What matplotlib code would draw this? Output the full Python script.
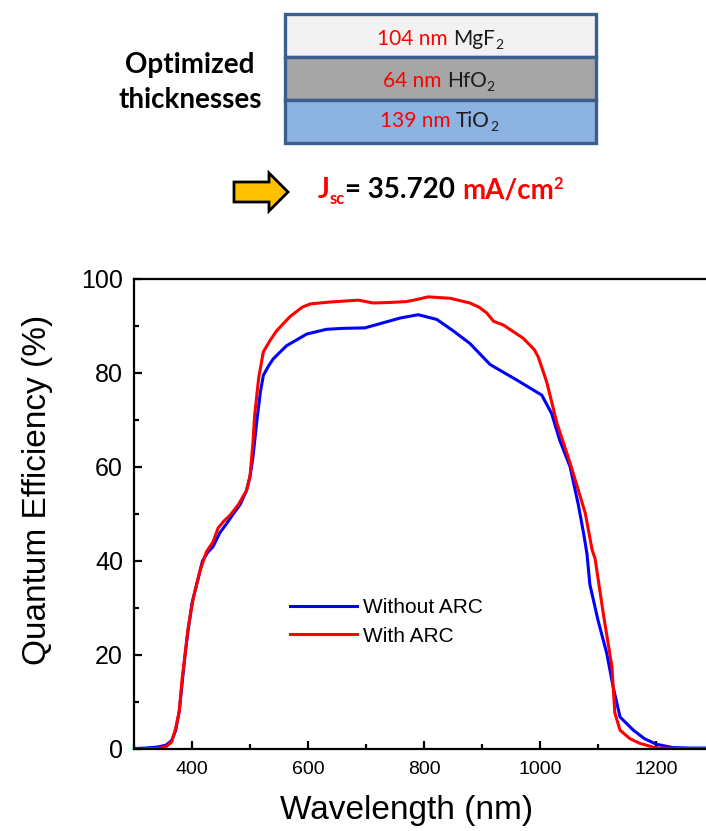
import matplotlib
matplotlib.use("Agg")
import matplotlib.pyplot as plt
from matplotlib.patches import Rectangle, Polygon
from matplotlib.ticker import MultipleLocator

# ---------------- data ----------------
wl_without = [300, 320, 340, 355, 365, 372, 378, 383, 388, 393, 400, 410, 418, 428, 436,
              448, 460, 471, 483, 494, 500, 505, 512, 518, 523, 532, 540, 563, 598, 632,
              660, 698, 730, 759, 790, 822, 850, 879, 914, 960, 1003, 1020, 1034, 1052,
              1066, 1075, 1081, 1086, 1100, 1115, 1126, 1138, 1161, 1180, 1201, 1229,
              1260, 1290]
qe_without = [0.1, 0.2, 0.4, 0.8, 1.8, 4, 8, 14, 20, 25, 31, 36, 40, 42, 43,
              46, 48, 50, 52, 55, 58, 62, 70, 76, 79.5, 81.5, 83, 85.8, 88.3, 89.3,
              89.5, 89.6, 90.7, 91.7, 92.4, 91.4, 89, 86.3, 81.8, 78.5, 75.3, 71.4, 65.7, 60,
              52, 46, 41.5, 35, 27.4, 20.4, 13.3, 6.8, 4, 2.2, 1, 0.3,
              0.2, 0.2]

wl_with = [300, 340, 355, 365, 372, 378, 383, 388, 393, 402, 414, 425, 436, 445, 455,
           466, 480, 494, 500, 505, 508, 515, 523, 535, 546, 569, 590, 604, 638, 687,
           712, 740, 770, 790, 807, 845, 879, 895, 908, 920, 937, 971, 990, 997, 1005,
           1012, 1029, 1052, 1078, 1090, 1095, 1109, 1124, 1129, 1138, 1155, 1172, 1201,
           1240, 1290]
qe_with = [0.0, 0.1, 0.5, 1.5, 4.5, 8, 15, 20, 25.5, 32, 38, 42, 44, 47, 48.5,
           49.8, 52, 55, 58, 65, 71, 79, 84.5, 87, 89, 92, 94, 94.7, 95.1, 95.5,
           94.9, 95, 95.2, 95.7, 96.2, 95.9, 94.9, 94, 92.8, 91, 90.2, 87.4, 85, 83.4, 80.5,
           77.9, 69.4, 60.8, 50.2, 42.3, 40.5, 28.9, 17.5, 7.7, 4, 2.2, 1.2, 0.2,
           0.1, 0.1]

series_labels = ["Without ARC", "With ARC"]
x_ticks = [400, 600, 800, 1000, 1200]
y_ticks = [0, 20, 40, 60, 80, 100]

layer_thick = ["104 nm", "64 nm", "139 nm"]
layer_mat = ["MgF", "HfO", "TiO"]
layer_colors = ["#f2f2f2", "#a6a6a6", "#8db3e2"]

W, H = 706, 831
fig = plt.figure(figsize=(W / 100, H / 100), dpi=100)
fig.patch.set_facecolor("white")
renderer = fig.canvas.get_renderer()

# ---------------- top diagram (pixel coordinates) ----------------
ov = fig.add_axes([0, 0, 1, 1])
ov.set_xlim(0, W)
ov.set_ylim(H, 0)
ov.axis("off")
ov.set_zorder(5)

dfont = "Lato"


def chain(x, y, pieces):
    """pieces: list of (text, color, size, weight, dy)"""
    for txt, col, size, weight, dy in pieces:
        t = ov.text(x, y + dy, txt, color=col, fontsize=size, fontweight=weight,
                    family=dfont, ha="left", va="baseline")
        bb = t.get_window_extent(renderer=renderer)
        x = bb.x1
    return x


box_x0, box_x1 = 285, 596
edges = [14, 57, 100, 143]
baselines = [45, 87, 127]
text_start = [377, 383, 380]
for i in range(3):
    ov.add_patch(Rectangle((box_x0, edges[i]), box_x1 - box_x0, edges[i + 1] - edges[i],
                           facecolor=layer_colors[i], edgecolor="#3b5f8c", lw=2.4))
    chain(text_start[i], baselines[i], [
        (layer_thick[i] + " ", "#ff0000", 15, "normal", 0),
        (layer_mat[i], "#1a1a1a", 15, "normal", 0),
        ("2", "#1a1a1a", 10, "normal", 4),
    ])

ov.text(190, 73, "Optimized", fontsize=20, fontweight="bold", family=dfont,
        ha="center", va="baseline", color="black")
ov.text(190, 108, "thicknesses", fontsize=20, fontweight="bold", family=dfont,
        ha="center", va="baseline", color="black")

# arrow
arrow_pts = [(234, 182), (269, 182), (269, 173), (288, 192), (269, 211), (269, 202), (234, 202)]
ov.add_patch(Polygon(arrow_pts, closed=True, facecolor="#ffc000", edgecolor="black", lw=2))

# Jsc text
chain(318, 198, [
    ("J", "#ff0000", 20, "bold", 0),
    ("sc", "#ff0000", 12, "bold", 6),
    ("= 35.720 ", "black", 20, "bold", 0),
    ("mA/cm", "#ff0000", 20, "bold", 0),
    ("2", "#ff0000", 12, "bold", -9),
])

# ---------------- chart ----------------
ax_l, ax_r, ax_t, ax_b = 134, 706, 279, 749
ax = fig.add_axes([ax_l / W, 1 - ax_b / H, (ax_r - ax_l) / W, (ax_b - ax_t) / H])
ax.set_facecolor("none")

ax.plot(wl_without, qe_without, color="#0000ff", lw=2.2, label=series_labels[0])
ax.plot(wl_with, qe_with, color="#ff0000", lw=2.2, label=series_labels[1])

ax.set_xlim(300, 300 + (ax_r - ax_l) / 0.58)
ax.set_ylim(0, 100)
ax.set_xticks(x_ticks)
ax.set_yticks(y_ticks)
ax.xaxis.set_minor_locator(MultipleLocator(100))
ax.yaxis.set_minor_locator(MultipleLocator(10))
ax.spines["right"].set_visible(False)
for s in ["left", "top", "bottom"]:
    ax.spines[s].set_linewidth(1.6)
ax.tick_params(which="both", direction="in", width=1.6, top=False, right=False)
ax.tick_params(axis="x", which="major", length=6, labelsize=14, pad=9)
ax.tick_params(axis="x", which="minor", length=3.5)
ax.tick_params(axis="y", which="major", length=6, labelsize=18, pad=8)
ax.tick_params(axis="y", which="minor", length=3.5)
for lab in ax.get_xticklabels() + ax.get_yticklabels():
    lab.set_family("Liberation Sans")

fig.text(38 / W, 1 - 490 / H, "Quantum Efficiency (%)", rotation=90, fontsize=24,
         family="Liberation Sans", ha="center", va="center")
fig.text(407 / W, 1 - 810 / H, "Wavelength (nm)", fontsize=24,
         family="Liberation Sans", ha="center", va="center")

leg = ax.legend(loc="center left", bbox_to_anchor=(290 / W, 1 - 622 / H),
                bbox_transform=fig.transFigure, frameon=False,
                prop={"family": "Liberation Sans", "size": 15},
                handlelength=3.2, handletextpad=0.3, labelspacing=0.45,
                borderpad=0, borderaxespad=0)

fig.savefig("out.png", dpi=100, facecolor="white")
